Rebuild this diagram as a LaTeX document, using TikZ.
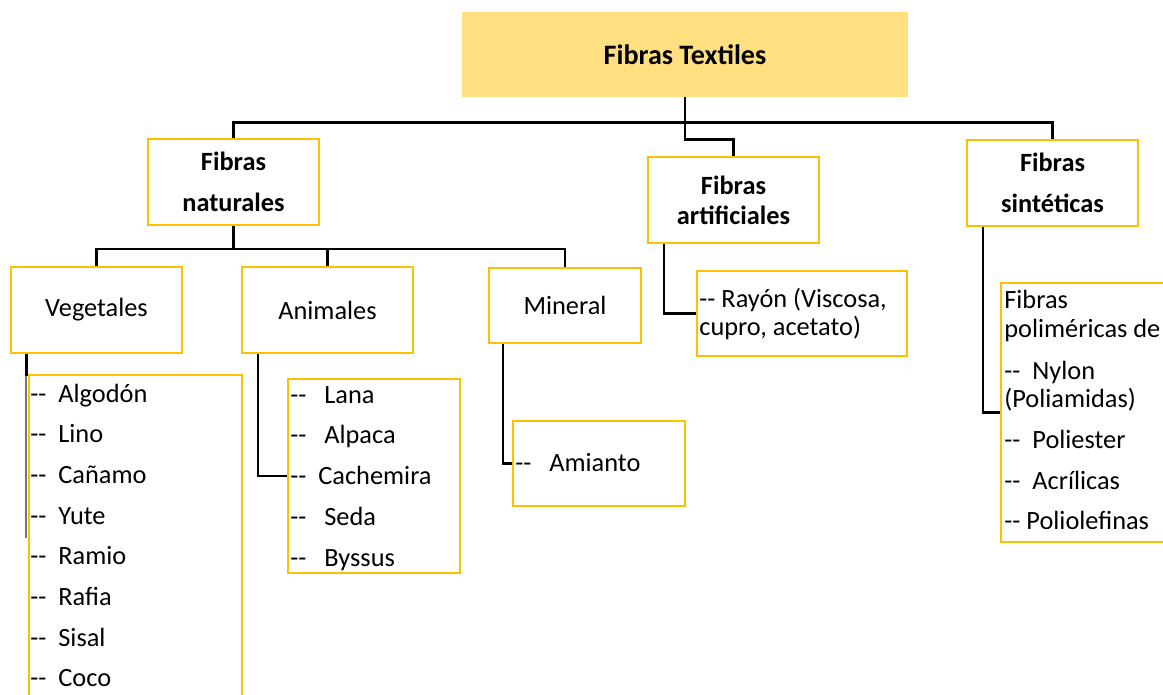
\documentclass[tikz,border=0pt]{standalone}
\usepackage{fontspec}
\setmainfont{Carlito}[Ligatures=TeXOff]
\usetikzlibrary{positioning}
\definecolor{gold}{HTML}{FFC000}
\definecolor{pale}{HTML}{FFDF80}

\begin{document}
\begin{tikzpicture}[
  x=0.02cm, y=-0.02cm,
  font=\fontsize{15}{18}\selectfont,
  box/.style={draw=gold, line width=1.4pt, fill=white, inner sep=0pt},
  head/.style={box, font=\bfseries\fontsize{15}{23}\selectfont, align=center},
  leaf/.style={box, align=center},
  item/.style={anchor=base west, inner sep=0pt},
  link/.style={black, line width=1.4pt}
]
\useasboundingbox (0,0) rectangle (1163,694);
\clip (0,0) rectangle (1163,694);

% ----------------------------- top level -----------------------------
\node[fill=pale, inner sep=0pt, minimum width=8.92cm, minimum height=1.70cm,
  font=\bfseries\fontsize{16}{18}\selectfont] (tex) at (685,54.5) {Fibras Textiles};

\node[head, minimum width=3.42cm, minimum height=1.72cm] (nat) at (233.5,182) {Fibras\\naturales};
\node[head, minimum width=3.42cm, minimum height=1.72cm,
  font=\bfseries\fontsize{15}{17}\selectfont] (art) at (733.5,200) {Fibras\\artificiales};
\node[head, minimum width=3.42cm, minimum height=1.72cm] (sin) at (1052.5,183) {Fibras\\sintéticas};

\draw[link] (tex.south) -- ++(0,25) coordinate (bus);
\draw[link] (nat.north) |- (bus) -| (sin.north);
\draw[link] (tex.south) -- ++(0,42) -| (art.north);

% ----------------------------- natural fibres -----------------------------
\node[leaf, minimum width=3.42cm, minimum height=1.72cm] (veg) at (96.5,310) {Vegetales};
\node[leaf, minimum width=3.42cm, minimum height=1.72cm] (ani) at (327.5,310) {Animales};
\node[leaf, minimum width=3.04cm, minimum height=1.50cm] (min) at (565,305.5) {Mineral};

\draw[link] (nat.south) -- ++(0,23) coordinate (nb);
\draw[link] (veg.north) |- (nb) -| (min.north);
\draw[link] (ani.north) -- (ani.north |- nb);

% vegetable list (runs off the page)
\node[box, minimum width=4.26cm, minimum height=6.90cm] (vgl) at (135.5,547.5) {};
\draw[link] (veg.south west) ++(16.5,0) -- ++(0,22) coordinate (vt);
\draw[black!55, line width=0.9pt] (vt) -- ++(0,162);
\foreach \t [count=\i] in {--\ \ Algodón, --\ \ Lino, --\ \ Cañamo, --\ \ Yute,
    --\ \ Ramio, --\ \ Rafia, --\ \ Sisal, --\ \ Coco}
  \node[item] (vgl-\i) at (30,361.3+40.7*\i) {\t};

% animal list
\node[box, minimum width=3.44cm, minimum height=3.88cm] (anl) at (374,476) {};
\draw[link] (ani.south west) ++(17,0) |- (anl.west);
\foreach \t [count=\i] in {--\ \ \ Lana, --\ \ \ Alpaca, --\ \ Cachemira,
    --\ \ \ Seda, --\ \ \ Byssus}
  \node[item] (anl-\i) at (290,362.25+40.75*\i) {\t};

% mineral
\node[box, minimum width=3.44cm, minimum height=1.70cm] (ami) at (599,463.5) {};
\draw[link] (min.south west) ++(15,0) |- (ami.west);
\node[item] (ami-1) at (515,471) {--\ \ \ Amianto};

% ----------------------------- artificial fibres -----------------------------
\node[box, minimum width=4.20cm, minimum height=1.70cm] (ray) at (802,313.5) {};
\draw[link] (art.south west) ++(17,0) |- (ray.west);
\node[item] (ray-1) at (699,307) {-- Rayón (Viscosa,};
\node[item] (ray-2) at (699,335) {cupro, acetato)};

% ----------------------------- synthetic fibres -----------------------------
\node[box, minimum width=3.48cm, minimum height=5.18cm] (pol) at (1088,412.5) {};
\draw[link] (sin.south west) ++(17,0) |- (pol.west);
\foreach \y/\t [count=\i] in {308/Fibras, 337/poliméricas de, 379/--\ \ Nylon,
    407/(Poliamidas), 448/--\ \ Poliester, 489/--\ \ Acrílicas, 529/--\ Poliolefinas}
  \node[item] (pol-\i) at (1004,\y) {\t};

\end{tikzpicture}
\end{document}
